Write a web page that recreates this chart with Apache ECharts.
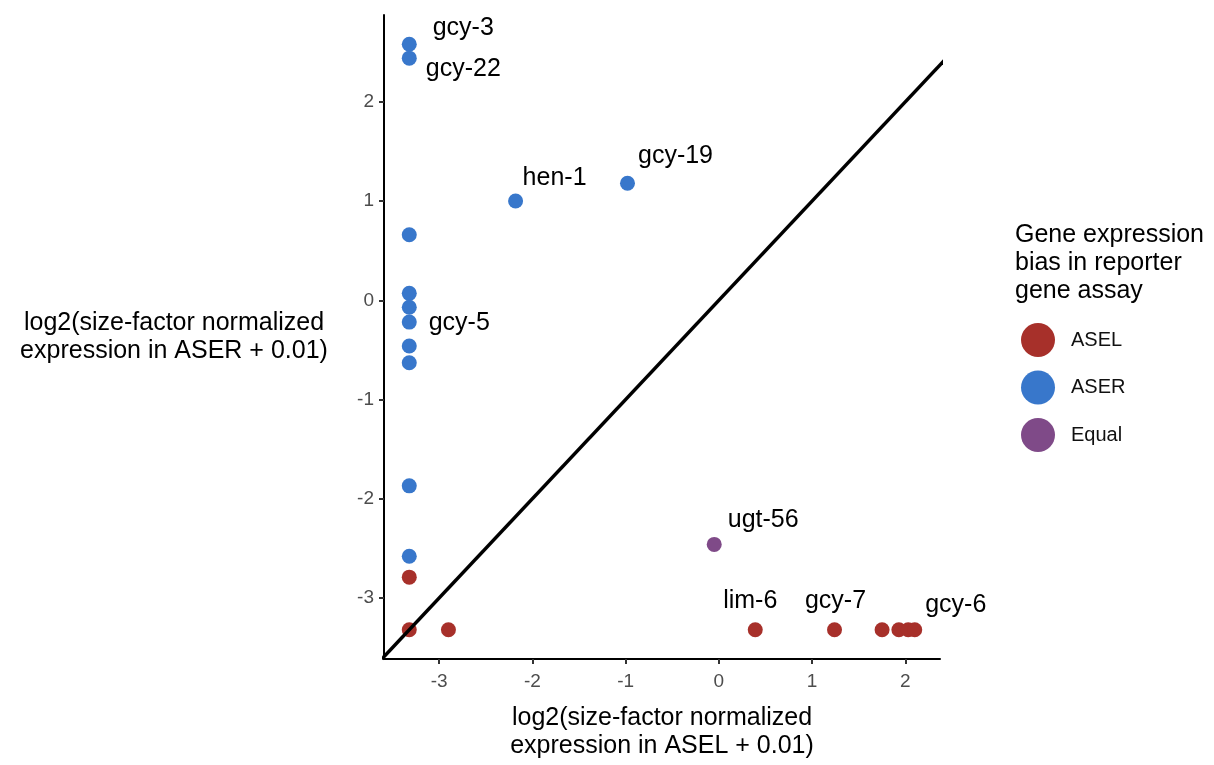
<!DOCTYPE html>
<html>
<head>
<meta charset="utf-8">
<title>ASEL vs ASER expression</title>
<script src="https://cdn.jsdelivr.net/npm/echarts@6/dist/echarts.min.js"></script>
<style>
  html, body { margin: 0; padding: 0; background: #ffffff; overflow: hidden; }
  #chart { width: 1214px; height: 765px; }
</style>
</head>
<body>
<div id="chart"></div>
<script>
// log2(size-factor normalized expression + 0.01) per gene, grouped by reporter assay bias
const aselX = [-3.32, -3.32, -2.90, 0.39, 1.24, 1.75, 1.93, 2.03, 2.10];
const aselY = [-2.79, -3.32, -3.32, -3.32, -3.32, -3.32, -3.32, -3.32, -3.32];
const aselGene = ['', '', '', 'lim-6', 'gcy-7', '', '', '', 'gcy-6'];

const aserX = [-3.32, -3.32, -2.18, -0.98, -3.32, -3.32, -3.32, -3.32, -3.32, -3.32, -3.32, -3.32];
const aserY = [2.58, 2.44, 1.00, 1.18, 0.66, 0.07, -0.07, -0.22, -0.46, -0.63, -1.87, -2.58];
const aserGene = ['gcy-3', 'gcy-22', 'hen-1', 'gcy-19', '', '', '', 'gcy-5', '', '', '', ''];

const equalX = [-0.05];
const equalY = [-2.46];
const equalGene = ['ugt-56'];

const groupNames = ['ASEL', 'ASER', 'Equal'];
const xTicks = [-3, -2, -1, 0, 1, 2];
const yTicks = [-3, -2, -1, 0, 1, 2];

// Label placement relative to each point (pixels), repel-style
const labelOffset = {
  'gcy-3': [54, -16],
  'gcy-22': [54, 11],
  'hen-1': [39, -23],
  'gcy-19': [48, -27],
  'gcy-5': [50, 1],
  'ugt-56': [49, -24],
  'lim-6': [-5, -29],
  'gcy-7': [1, -29],
  'gcy-6': [41, -25]
};

const colors = { ASEL: '#A7302A', ASER: '#3877CB', Equal: '#7F4A88' };
const FONT = "'Liberation Sans', Arial, Helvetica, sans-serif";

// Axis limits: data range padded by 5% on each side
function padRange(vals) {
  const lo = Math.min(...vals), hi = Math.max(...vals);
  const pad = (hi - lo) * 0.05;
  return [lo - pad, hi + pad];
}
const allX = aselX.concat(aserX, equalX);
const allY = aselY.concat(aserY, equalY);
const [xMin, xMax] = padRange(allX);
const [yMin, yMax] = padRange(allY);

function buildPoints(xs, ys, genes) {
  return xs.map((x, i) => {
    const g = genes[i];
    const item = { value: [x, ys[i]], name: g };
    if (g) item.label = { show: true };
    return item;
  });
}

function scatterSeries(name, xs, ys, genes) {
  return {
    name: name,
    type: 'scatter',
    symbol: 'circle',
    symbolSize: 15,
    z: 2,
    itemStyle: { color: colors[name], opacity: 1 },
    label: {
      show: false,
      position: 'inside',
      formatter: p => p.name,
      fontFamily: FONT,
      fontSize: 25,
      color: '#000000',
      align: 'center',
      verticalAlign: 'middle'
    },
    labelLayout: function (params) {
      const off = labelOffset[genes[params.dataIndex]];
      return off ? { dx: off[0], dy: off[1], hideOverlap: false } : {};
    },
    emphasis: { disabled: true },
    data: buildPoints(xs, ys, genes)
  };
}

// identity line y = x across the panel
const diagLo = Math.min(xMin, yMin);
const diagHi = Math.max(xMax, yMax);

const chart = echarts.init(document.getElementById('chart'), null, { renderer: 'canvas' });

chart.setOption({
  animation: false,
  backgroundColor: '#ffffff',
  title: {
    text: 'Gene expression\nbias in reporter\ngene assay',
    left: 1015,
    top: 221,
    padding: 0,
    textStyle: {
      fontFamily: FONT,
      fontSize: 25,
      fontWeight: 'normal',
      lineHeight: 28,
      color: '#000000'
    }
  },
  legend: {
    data: groupNames,
    orient: 'vertical',
    left: 1021,
    top: 323,
    padding: 0,
    itemWidth: 34,
    itemHeight: 34,
    itemGap: 13.5,
    icon: 'circle',
    selectedMode: false,
    textStyle: {
      fontFamily: FONT,
      fontSize: 20,
      color: '#111111',
      padding: [0, 0, 0, 11]
    }
  },
  grid: {
    left: 384,
    right: 274,
    top: 15,
    bottom: 99,
    containLabel: false
  },
  xAxis: {
    type: 'value',
    min: xMin,
    max: xMax,
    name: 'log2(size-factor normalized\nexpression in ASEL + 0.01)',
    nameLocation: 'middle',
    nameGap: 45,
    nameTextStyle: {
      fontFamily: FONT,
      fontSize: 25,
      lineHeight: 28,
      color: '#000000',
      align: 'center',
      verticalAlign: 'top'
    },
    axisLine: { show: true, onZero: false, lineStyle: { color: '#000000', width: 2 } },
    axisTick: {
      show: true,
      length: 5,
      customValues: xTicks,
      lineStyle: { color: '#333333', width: 2 }
    },
    axisLabel: {
      customValues: xTicks,
      margin: 13,
      fontFamily: FONT,
      fontSize: 19,
      color: '#4D4D4D'
    },
    splitLine: { show: false }
  },
  yAxis: {
    type: 'value',
    min: yMin,
    max: yMax,
    name: 'log2(size-factor normalized\nexpression in ASER + 0.01)',
    nameLocation: 'middle',
    nameRotate: 0,
    nameGap: 210,
    nameTextStyle: {
      fontFamily: FONT,
      fontSize: 25,
      lineHeight: 28,
      color: '#000000',
      align: 'center',
      verticalAlign: 'middle'
    },
    axisLine: { show: true, onZero: false, lineStyle: { color: '#000000', width: 2 } },
    axisTick: {
      show: true,
      length: 5,
      customValues: yTicks,
      lineStyle: { color: '#333333', width: 2 }
    },
    axisLabel: {
      customValues: yTicks,
      margin: 10,
      fontFamily: FONT,
      fontSize: 19,
      color: '#4D4D4D'
    },
    splitLine: { show: false }
  },
  series: [
    scatterSeries('ASEL', aselX, aselY, aselGene),
    scatterSeries('ASER', aserX, aserY, aserGene),
    scatterSeries('Equal', equalX, equalY, equalGene),
    {
      name: 'identity',
      type: 'line',
      data: [[diagLo, diagLo], [diagHi, diagHi]],
      showSymbol: false,
      symbol: 'none',
      clip: true,
      silent: true,
      z: 5,
      lineStyle: { color: '#000000', width: 3.5 },
      emphasis: { disabled: true }
    }
  ]
});
</script>
</body>
</html>
